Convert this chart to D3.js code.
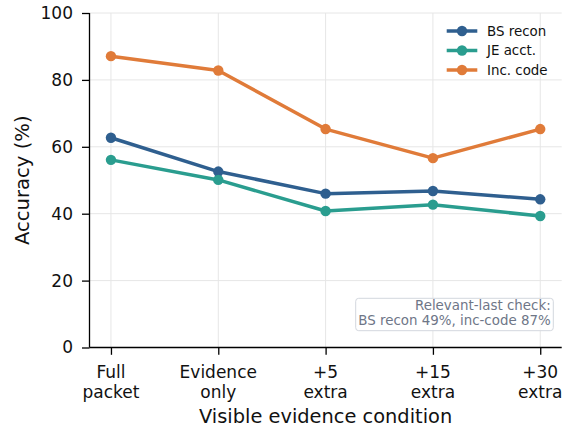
<!DOCTYPE html>
<html>
<head>
<meta charset="utf-8">
<script src="https://cdn.jsdelivr.net/npm/d3@7"></script>
<style>
  html, body { margin: 0; padding: 0; background: #fff; }
  svg { display: block; font-family: "DejaVu Sans", sans-serif; }
</style>
</head>
<body>
<div id="chart"></div>
<script>
const categories = [["Full", "packet"], ["Evidence", "only"], ["+5", "extra"], ["+15", "extra"], ["+30", "extra"]];
const seriesNames = ["BS recon", "JE acct.", "Inc. code"];
const seriesColors = ["#2f5f8f", "#2a9d8f", "#e07b39"];
const bsRecon = [62.7, 52.6, 46.0, 46.8, 44.3];
const jeAcct = [56.1, 50.1, 40.8, 42.7, 39.3];
const incCode = [87.1, 82.8, 65.3, 56.6, 65.3];
const yTicks = [0, 20, 40, 60, 80, 100];
const xLabel = "Visible evidence condition";
const yLabel = "Accuracy (%)";
const noteLines = ["Relevant-last check:", "BS recon 49%, inc-code 87%"];

const W = 571, H = 427;
const margin = { left: 89.5, right: W - 561.7, top: 13, bottom: H - 347.5 };
const series = [bsRecon, jeAcct, incCode];

const svg = d3.select("#chart").append("svg").attr("width", W).attr("height", H);

const x = d3.scaleLinear().domain([-0.2, 4.2]).range([margin.left, W - margin.right]);
const y = d3.scaleLinear().domain([0, 100]).range([H - margin.bottom, margin.top]);

// grid
const grid = svg.append("g").attr("stroke", "#e6e6e6").attr("stroke-width", 1);
yTicks.forEach(t => grid.append("line").attr("x1", x.range()[0]).attr("x2", x.range()[1]).attr("y1", y(t)).attr("y2", y(t)));
categories.forEach((c, i) => grid.append("line").attr("x1", x(i)).attr("x2", x(i)).attr("y1", y(0)).attr("y2", y(100)));

// axes
const yAxis = svg.append("g").attr("transform", `translate(${margin.left},0)`)
  .call(d3.axisLeft(y).tickValues(yTicks).tickSize(7.5).tickPadding(9));
const xAxis = svg.append("g").attr("transform", `translate(0,${H - margin.bottom})`)
  .call(d3.axisBottom(x).tickValues(d3.range(categories.length)).tickSize(7.3).tickFormat(() => ""));
[yAxis, xAxis].forEach(a => {
  a.select(".domain").attr("stroke", "#000").attr("stroke-width", 1.3);
  a.selectAll(".tick line").attr("stroke", "#000").attr("stroke-width", 1.3);
});
yAxis.selectAll(".tick text").attr("font-size", 17).attr("fill", "#111").attr("font-family", "DejaVu Sans");
xAxis.select(".domain").attr("d", `M${x.range()[0]},0H${x.range()[1]}`);
yAxis.select(".domain").attr("d", `M0,${y(0)}V${y(100)}`);

// x tick labels (two lines)
categories.forEach((c, i) => {
  const t = svg.append("text").attr("x", x(i)).attr("y", 377.5)
    .attr("text-anchor", "middle").attr("font-size", 17).attr("fill", "#111");
  t.append("tspan").attr("x", x(i)).text(c[0]);
  t.append("tspan").attr("x", x(i)).attr("dy", 20).text(c[1]);
});

// axis labels
svg.append("text").attr("x", (x.range()[0] + x.range()[1]) / 2).attr("y", 423)
  .attr("text-anchor", "middle").attr("font-size", 19.4).attr("fill", "#111").text(xLabel);
svg.append("text").attr("transform", `translate(29,${(y(0) + y(100)) / 2}) rotate(-90)`)
  .attr("text-anchor", "middle").attr("font-size", 19.6).attr("fill", "#111").text(yLabel);

// lines
const line = d3.line().x((d, i) => x(i)).y(d => y(d));
series.forEach((s, k) => {
  svg.append("path").datum(s).attr("d", line).attr("fill", "none")
    .attr("stroke", seriesColors[k]).attr("stroke-width", 3.5).attr("stroke-linejoin", "round");
  svg.append("g").selectAll("circle").data(s).join("circle")
    .attr("cx", (d, i) => x(i)).attr("cy", d => y(d)).attr("r", 5.2).attr("fill", seriesColors[k]);
});

// legend
const legend = svg.append("g");
seriesNames.forEach((n, k) => {
  const yy = 31 + k * 19.5;
  legend.append("line").attr("x1", 446.7).attr("x2", 477.3).attr("y1", yy).attr("y2", yy)
    .attr("stroke", seriesColors[k]).attr("stroke-width", 3.5);
  legend.append("circle").attr("cx", 462).attr("cy", yy).attr("r", 5.2).attr("fill", seriesColors[k]);
  legend.append("text").attr("x", 487).attr("y", yy).attr("dy", "0.36em")
    .attr("font-size", 13.4).attr("fill", "#111").text(n);
});

// note box
svg.append("rect").attr("x", 355.7).attr("y", 298.3).attr("width", 553.3 - 355.7).attr("height", 330.7 - 298.3)
  .attr("rx", 3).attr("fill", "rgba(255,255,255,0.85)").attr("stroke", "#d3d7de").attr("stroke-width", 1);
noteLines.forEach((l, i) => {
  svg.append("text").attr("x", 550.7).attr("y", 310 + i * 15.3).attr("text-anchor", "end")
    .attr("font-size", 13.4).attr("fill", "#6e7687").text(l);
});
</script>
</body>
</html>
